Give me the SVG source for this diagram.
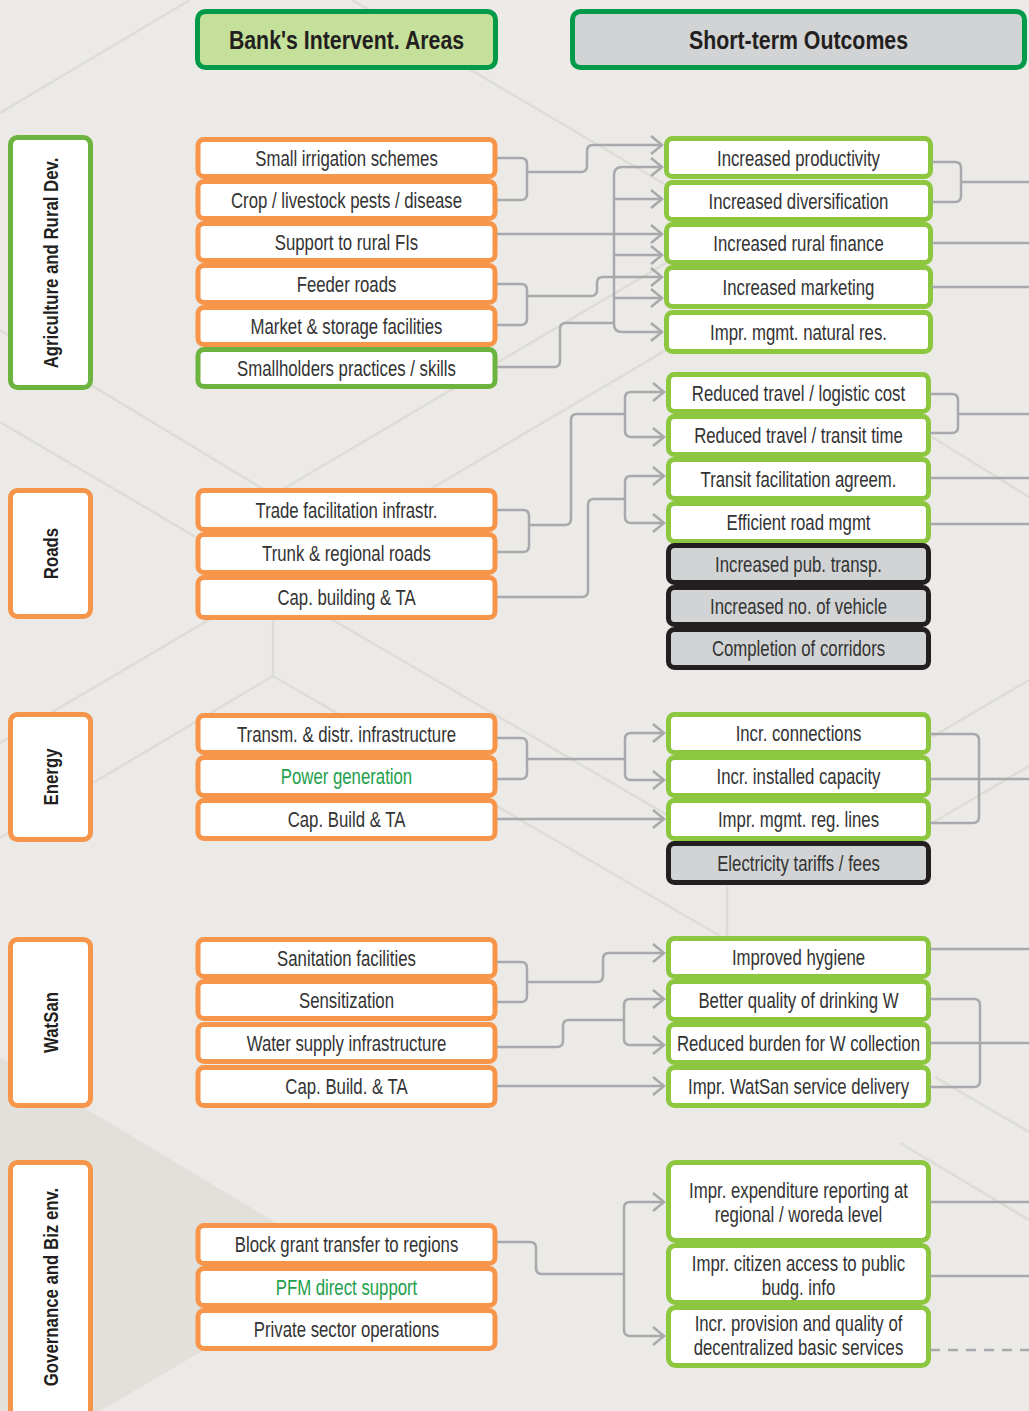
<svg xmlns="http://www.w3.org/2000/svg" width="1029" height="1411" viewBox="0 0 1029 1411">
<style>
text{font-family:'Liberation Sans',Arial,sans-serif;}
.t{font-size:21.5px;fill:#333333;text-anchor:middle;}
.tg{font-size:21.5px;fill:#22A04B;text-anchor:middle;}
.h{font-size:26px;font-weight:bold;fill:#231F20;text-anchor:middle;}
.c{font-size:20.5px;font-weight:bold;fill:#231F20;text-anchor:middle;}
.iv{fill:#fff;stroke:#F7964A;stroke-width:5;}
.gr{fill:#fff;stroke:#6DB33F;stroke-width:5;}
.oc{fill:#fff;stroke:#8DC63F;stroke-width:5;}
.ox{fill:#D1D3D4;stroke:#231F20;stroke-width:5;}
.bg{fill:none;stroke:#DDDCD7;stroke-width:2.5;}
.cn{fill:none;stroke:#A7A9AC;stroke-width:2.5;}
.ar{marker-end:url(#arr);}
</style>
<defs>
<marker id="arr" markerUnits="userSpaceOnUse" markerWidth="20" markerHeight="26" viewBox="-14 -13 16 26" refX="0" refY="0" orient="auto"><path d="M-11,-9 L0,0 L-11,9" fill="none" stroke="#A7A9AC" stroke-width="2.5"/></marker>
</defs>
<rect x="0" y="0" width="1029" height="1411" fill="#EBEAE6"/>
<polygon points="0,1057 348,1266 100,1411 0,1411" fill="#E1E0DB"/>
<g id="background-lines">
<path class="bg" d="M0,113 L190,0"/>
<path class="bg" d="M352,0 L700,205"/>
<path class="bg" d="M0,330 L273,495 L700,243"/>
<path class="bg" d="M0,422 L240,563"/>
<path class="bg" d="M273,495 V676"/>
<path class="bg" d="M273,676 L0,838"/>
<path class="bg" d="M273,676 L727,940"/>
<path class="bg" d="M0,743 L700,330"/>
<path class="bg" d="M273,585 L727,850 V940"/>
<path class="bg" d="M932,437 L1029,497"/>
<path class="bg" d="M932,737 L1029,680"/>
<path class="bg" d="M932,823 L1029,766"/>
<path class="bg" d="M935,1077 L1029,1132"/>
<path class="bg" d="M900,1143 L1029,1220"/>
</g>
<g id="headers">
<g id="hdr-bank"><rect x="197.5" y="11.5" width="298" height="56" rx="8" fill="#C5E09B" stroke="#009A48" stroke-width="5"/><text class="h" transform="translate(346.5,49) scale(0.82,1)">Bank's Intervent. Areas</text></g>
<g id="hdr-outcomes"><rect x="572.5" y="11.5" width="452" height="56" rx="8" fill="#D1D3D4" stroke="#009A48" stroke-width="5"/><text class="h" transform="translate(798.5,49) scale(0.82,1)">Short-term Outcomes</text></g>
</g>
<g id="categories">
<g id="cat-agri"><rect class="gr" x="10.5" y="137.5" width="80" height="250" rx="7"/><text class="c" transform="translate(58,263) rotate(-90) scale(0.82,1)">Agriculture and Rural Dev.</text></g>
<g id="cat-roads"><rect class="iv" x="10.5" y="490.5" width="80" height="126" rx="7"/><text class="c" transform="translate(58,553.5) rotate(-90) scale(0.82,1)">Roads</text></g>
<g id="cat-energy"><rect class="iv" x="10.5" y="714.5" width="80" height="125" rx="7"/><text class="c" transform="translate(58,777) rotate(-90) scale(0.82,1)">Energy</text></g>
<g id="cat-watsan"><rect class="iv" x="10.5" y="939.5" width="80" height="166" rx="7"/><text class="c" transform="translate(58,1022.5) rotate(-90) scale(0.82,1)">WatSan</text></g>
<g id="cat-gov"><rect class="iv" x="10.5" y="1162.5" width="80" height="262" rx="7"/><text class="c" transform="translate(58,1287) rotate(-90) scale(0.82,1)">Governance and Biz env.</text></g>
</g>
<g id="interventions">
<g id="iv-irrigation"><rect class="iv" x="198" y="139.5" width="297" height="37" rx="6"/><text class="t" transform="translate(346.5,165.5) scale(0.78,1)">Small irrigation schemes</text></g>
<g id="iv-pests"><rect class="iv" x="198" y="181.5" width="297" height="37" rx="6"/><text class="t" transform="translate(346.5,207.5) scale(0.78,1)">Crop / livestock pests / disease</text></g>
<g id="iv-rural-fi"><rect class="iv" x="198" y="223.5" width="297" height="37" rx="6"/><text class="t" transform="translate(346.5,249.5) scale(0.78,1)">Support to rural FIs</text></g>
<g id="iv-feeder"><rect class="iv" x="198" y="265.5" width="297" height="37" rx="6"/><text class="t" transform="translate(346.5,291.5) scale(0.78,1)">Feeder roads</text></g>
<g id="iv-market"><rect class="iv" x="198" y="307.5" width="297" height="37" rx="6"/><text class="t" transform="translate(346.5,333.5) scale(0.78,1)">Market &amp; storage facilities</text></g>
<g id="iv-smallholders"><rect class="gr" x="198" y="349.5" width="297" height="37" rx="6"/><text class="t" transform="translate(346.5,375.5) scale(0.78,1)">Smallholders practices / skills</text></g>

<g id="iv-trade"><rect class="iv" x="198" y="490.5" width="297" height="39" rx="6"/><text class="t" transform="translate(346.5,517.5) scale(0.78,1)">Trade facilitation infrastr.</text></g>
<g id="iv-trunk"><rect class="iv" x="198" y="534.5" width="297" height="38" rx="6"/><text class="t" transform="translate(346.5,561) scale(0.78,1)">Trunk &amp; regional roads</text></g>
<g id="iv-capbuild-roads"><rect class="iv" x="198" y="577.5" width="297" height="40" rx="6"/><text class="t" transform="translate(346.5,605) scale(0.78,1)">Cap. building &amp; TA</text></g>

<g id="iv-transm"><rect class="iv" x="198" y="715.5" width="297" height="37" rx="6"/><text class="t" transform="translate(346.5,741.5) scale(0.78,1)">Transm. &amp; distr. infrastructure</text></g>
<g id="iv-power"><rect class="iv" x="198" y="757.5" width="297" height="38" rx="6"/><text class="tg" transform="translate(346.5,784) scale(0.78,1)">Power generation</text></g>
<g id="iv-capbuild-energy"><rect class="iv" x="198" y="800.5" width="297" height="38" rx="6"/><text class="t" transform="translate(346.5,827) scale(0.78,1)">Cap. Build &amp; TA</text></g>

<g id="iv-sanitation"><rect class="iv" x="198" y="939.5" width="297" height="37" rx="6"/><text class="t" transform="translate(346.5,965.5) scale(0.78,1)">Sanitation facilities</text></g>
<g id="iv-sensitization"><rect class="iv" x="198" y="981.5" width="297" height="37" rx="6"/><text class="t" transform="translate(346.5,1007.5) scale(0.78,1)">Sensitization</text></g>
<g id="iv-water"><rect class="iv" x="198" y="1024.5" width="297" height="37" rx="6"/><text class="t" transform="translate(346.5,1050.5) scale(0.78,1)">Water supply infrastructure</text></g>
<g id="iv-capbuild-watsan"><rect class="iv" x="198" y="1067.5" width="297" height="38" rx="6"/><text class="t" transform="translate(346.5,1094) scale(0.78,1)">Cap. Build. &amp; TA</text></g>

<g id="iv-blockgrant"><rect class="iv" x="198" y="1225.5" width="297" height="38" rx="6"/><text class="t" transform="translate(346.5,1252) scale(0.78,1)">Block grant transfer to regions</text></g>
<g id="iv-pfm"><rect class="iv" x="198" y="1268.5" width="297" height="37" rx="6"/><text class="tg" transform="translate(346.5,1294.5) scale(0.78,1)">PFM direct support</text></g>
<g id="iv-private"><rect class="iv" x="198" y="1310.5" width="297" height="38" rx="6"/><text class="t" transform="translate(346.5,1337) scale(0.78,1)">Private sector operations</text></g>
</g>
<g id="outcomes">
<g id="oc-productivity"><rect class="oc" x="666.5" y="138.5" width="264" height="38" rx="6"/><text class="t" transform="translate(798.5,165.5) scale(0.78,1)">Increased productivity</text></g>
<g id="oc-diversification"><rect class="oc" x="666.5" y="182.5" width="264" height="37" rx="6"/><text class="t" transform="translate(798.5,208.5) scale(0.78,1)">Increased diversification</text></g>
<g id="oc-rural-finance"><rect class="oc" x="666.5" y="224.5" width="264" height="38" rx="6"/><text class="t" transform="translate(798.5,251) scale(0.78,1)">Increased rural finance</text></g>
<g id="oc-marketing"><rect class="oc" x="666.5" y="267.5" width="264" height="39" rx="6"/><text class="t" transform="translate(798.5,294.5) scale(0.78,1)">Increased marketing</text></g>
<g id="oc-natural-res"><rect class="oc" x="666.5" y="312.5" width="264" height="39" rx="6"/><text class="t" transform="translate(798.5,339.5) scale(0.78,1)">Impr. mgmt. natural res.</text></g>

<g id="oc-logistic"><rect class="oc" x="668.5" y="374.5" width="260" height="37" rx="6"/><text class="t" transform="translate(798.5,400.5) scale(0.78,1)">Reduced travel / logistic cost</text></g>
<g id="oc-transit-time"><rect class="oc" x="668.5" y="416.5" width="260" height="38" rx="6"/><text class="t" transform="translate(798.5,443) scale(0.78,1)">Reduced travel / transit time</text></g>
<g id="oc-transit-agreem"><rect class="oc" x="668.5" y="459.5" width="260" height="39" rx="6"/><text class="t" transform="translate(798.5,486.5) scale(0.78,1)">Transit facilitation agreem.</text></g>
<g id="oc-road-mgmt"><rect class="oc" x="668.5" y="503.5" width="260" height="38" rx="6"/><text class="t" transform="translate(798.5,530) scale(0.78,1)">Efficient road mgmt</text></g>
<g id="oc-pub-transp"><rect class="ox" x="668.5" y="545.5" width="260" height="37" rx="6"/><text class="t" transform="translate(798.5,571.5) scale(0.78,1)">Increased pub. transp.</text></g>
<g id="oc-vehicle"><rect class="ox" x="668.5" y="587.5" width="260" height="37" rx="6"/><text class="t" transform="translate(798.5,613.5) scale(0.78,1)">Increased no. of vehicle</text></g>
<g id="oc-corridors"><rect class="ox" x="668.5" y="629.5" width="260" height="38" rx="6"/><text class="t" transform="translate(798.5,656) scale(0.78,1)">Completion of corridors</text></g>

<g id="oc-connections"><rect class="oc" x="668.5" y="714.5" width="260" height="38" rx="6"/><text class="t" transform="translate(798.5,741) scale(0.78,1)">Incr. connections</text></g>
<g id="oc-capacity"><rect class="oc" x="668.5" y="757.5" width="260" height="38" rx="6"/><text class="t" transform="translate(798.5,784) scale(0.78,1)">Incr. installed capacity</text></g>
<g id="oc-reg-lines"><rect class="oc" x="668.5" y="800.5" width="260" height="38" rx="6"/><text class="t" transform="translate(798.5,827) scale(0.78,1)">Impr. mgmt. reg. lines</text></g>
<g id="oc-tariffs"><rect class="ox" x="668.5" y="843.5" width="260" height="39" rx="6"/><text class="t" transform="translate(798.5,870.5) scale(0.78,1)">Electricity tariffs / fees</text></g>

<g id="oc-hygiene"><rect class="oc" x="668.5" y="938.5" width="260" height="38" rx="6"/><text class="t" transform="translate(798.5,965) scale(0.78,1)">Improved hygiene</text></g>
<g id="oc-drinking"><rect class="oc" x="668.5" y="981.5" width="260" height="38" rx="6"/><text class="t" transform="translate(798.5,1008) scale(0.78,1)">Better quality of drinking W</text></g>
<g id="oc-burden"><rect class="oc" x="668.5" y="1024.5" width="260" height="38" rx="6"/><text class="t" transform="translate(798.5,1051) scale(0.78,1)">Reduced burden for W collection</text></g>
<g id="oc-watsan-delivery"><rect class="oc" x="668.5" y="1067.5" width="260" height="38" rx="6"/><text class="t" transform="translate(798.5,1094) scale(0.78,1)">Impr. WatSan service delivery</text></g>

<g id="oc-expenditure"><rect class="oc" x="668.5" y="1162.5" width="260" height="78" rx="7"/><text class="t" transform="translate(798.5,1197.5) scale(0.78,1)">Impr. expenditure reporting at</text><text class="t" transform="translate(798.5,1221.5) scale(0.78,1)">regional / woreda level</text></g>
<g id="oc-citizen"><rect class="oc" x="668.5" y="1245.5" width="260" height="57" rx="7"/><text class="t" transform="translate(798.5,1270.5) scale(0.78,1)">Impr. citizen access to public</text><text class="t" transform="translate(798.5,1294.5) scale(0.78,1)">budg. info</text></g>
<g id="oc-provision"><rect class="oc" x="668.5" y="1307.5" width="260" height="58" rx="7"/><text class="t" transform="translate(798.5,1330.5) scale(0.78,1)">Incr. provision and quality of</text><text class="t" transform="translate(798.5,1354.5) scale(0.78,1)">decentralized basic services</text></g>
</g>
<g id="connectors">
<path class="cn" d="M497,158 H521 Q527,158 527,164 V194 Q527,200 521,200 H497"/>
<path class="cn ar" d="M527,172 H581 Q587,172 587,166 V151 Q587,145 593,145 H662"/>
<path class="cn ar" d="M497,234 H662"/>
<path class="cn" d="M497,367 H554 Q560,367 560,361 V329 Q560,323 566,323 H614"/>
<path class="cn" d="M614,175 V324"/>
<path class="cn ar" d="M614,175 Q614,167 622,167 H662"/>
<path class="cn ar" d="M614,199 H662"/>
<path class="cn ar" d="M614,255 H662"/>
<path class="cn ar" d="M614,298 H662"/>
<path class="cn ar" d="M614,324 Q614,332 622,332 H662"/>
<path class="cn" d="M497,284 H521 Q527,284 527,290 V319 Q527,325 521,325 H497"/>
<path class="cn ar" d="M527,296 H591 Q597,296 597,290 V283 Q597,277 603,277 H662"/>
<path class="cn" d="M932,162 H955 Q961,162 961,168 V196 Q961,202 955,202 H932"/>
<path class="cn" d="M961,182 H1029"/>
<path class="cn" d="M932,243 H1029"/>
<path class="cn" d="M932,287 H1029"/>

<path class="cn" d="M497,510 H523 Q529,510 529,516 V546 Q529,552 523,552 H497"/>
<path class="cn" d="M529,525 H565 Q571,525 571,519 V420 Q571,414 577,414 H625"/>
<path class="cn ar" d="M625,414 V398 Q625,392 631,392 H664"/>
<path class="cn ar" d="M625,414 V431 Q625,437 631,437 H664"/>
<path class="cn" d="M497,597 H582 Q588,597 588,591 V505 Q588,499 594,499 H625"/>
<path class="cn ar" d="M625,499 V482 Q625,476 631,476 H664"/>
<path class="cn ar" d="M625,499 V517 Q625,523 631,523 H664"/>
<path class="cn" d="M930,394 H952 Q958,394 958,400 V427 Q958,433 952,433 H930"/>
<path class="cn" d="M958,414 H1029"/>
<path class="cn" d="M930,478 H1029"/>
<path class="cn" d="M930,524 H1029"/>

<path class="cn" d="M497,738 H521 Q527,738 527,744 V773 Q527,779 521,779 H497"/>
<path class="cn" d="M527,759 H625"/>
<path class="cn ar" d="M625,759 V739 Q625,733 631,733 H664"/>
<path class="cn ar" d="M625,759 V774 Q625,780 631,780 H664"/>
<path class="cn ar" d="M497,819 H664"/>
<path class="cn" d="M930,734 H973 Q979,734 979,740 V817 Q979,823 973,823 H930"/>
<path class="cn" d="M930,779 H1029"/>

<path class="cn" d="M497,962 H521 Q527,962 527,968 V996 Q527,1002 521,1002 H497"/>
<path class="cn ar" d="M527,982 H597 Q603,982 603,976 V959 Q603,953 609,953 H664"/>
<path class="cn" d="M497,1047 H557 Q563,1047 563,1041 V1026 Q563,1020 569,1020 H624"/>
<path class="cn ar" d="M624,1020 V1005 Q624,999 630,999 H664"/>
<path class="cn ar" d="M624,1020 V1039 Q624,1045 630,1045 H664"/>
<path class="cn ar" d="M497,1086 H664"/>
<path class="cn" d="M930,949 H1029"/>
<path class="cn" d="M930,999 H974 Q980,999 980,1005 V1081 Q980,1087 974,1087 H930"/>
<path class="cn" d="M930,1043 H1029"/>

<path class="cn" d="M497,1242 H530 Q536,1242 536,1248 V1268 Q536,1274 542,1274 H624"/>
<path class="cn ar" d="M624,1274 V1208 Q624,1202 630,1202 H664"/>
<path class="cn ar" d="M624,1274 V1330 Q624,1336 630,1336 H664"/>
<path class="cn" d="M930,1202 H1029"/>
<path class="cn" d="M930,1276 H1029"/>
<path class="cn" d="M930,1350 H1029" stroke-dasharray="10 8"/>
</g>
</svg>
